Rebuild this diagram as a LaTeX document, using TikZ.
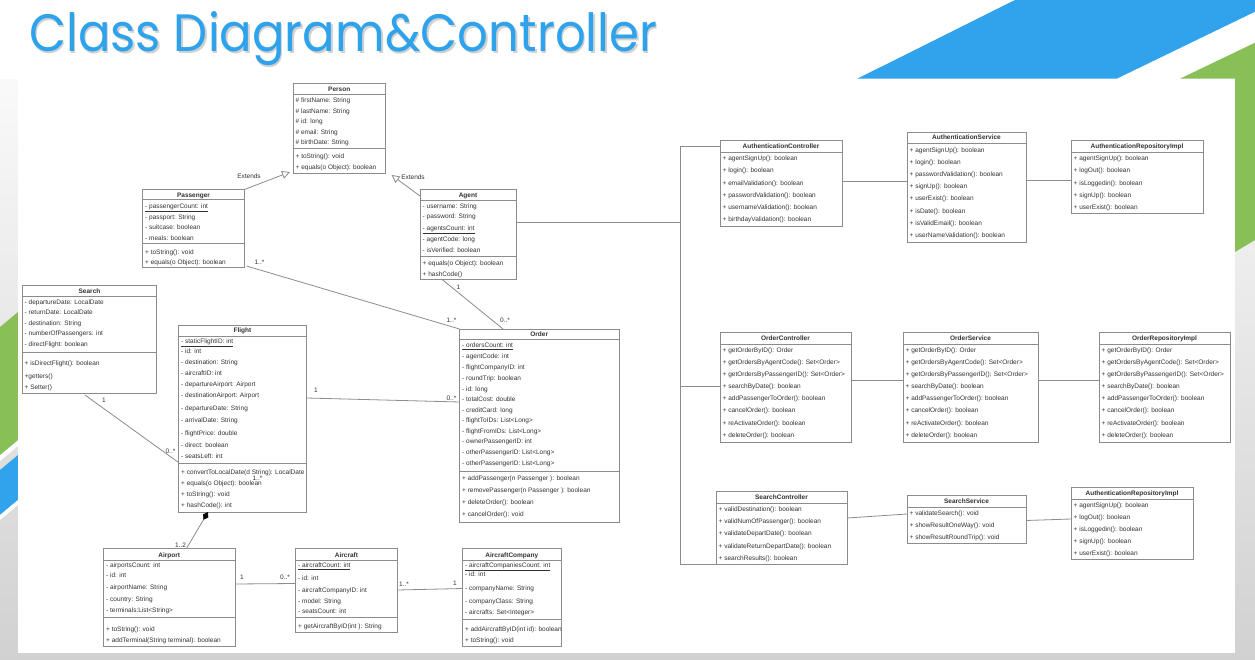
\documentclass[tikz,border=0pt]{standalone}
\usepackage{fontspec}
\setmainfont{Liberation Sans}
\newfontfamily\titlefont{Poppins}
\usetikzlibrary{arrows.meta,calc}
\definecolor{titleblue}{HTML}{2EA3EC}
\definecolor{shapeblue}{HTML}{30A3EC}
\definecolor{shapegreen}{HTML}{88C057}
\definecolor{txt}{HTML}{333333}
\definecolor{linegray}{HTML}{8C8C8C}
\tikzset{
  classbox/.style={draw=linegray, line width=0.8pt, fill=white, inner sep=0pt, outer sep=0pt, rectangle},
  sepline/.style={draw=linegray, line width=0.8pt},
  rowtxt/.style={anchor=west, inner sep=0pt, font=\fontsize{6.5}{7}\selectfont, text=txt, text height=4.6pt, text depth=0pt},
  titletxt/.style={inner sep=0pt, font=\bfseries\fontsize{6.5}{7}\selectfont, text=txt, text height=4.6pt, text depth=0pt},
  lbl/.style={inner sep=0pt, font=\fontsize{6.5}{7}\selectfont, text=txt},
  conn/.style={draw=linegray, line width=0.8pt},
}
\newcommand\umlbox[9]{%
  \node[classbox, minimum width={#3pt-#2pt}, minimum height={#5pt-#4pt}, anchor=north west] (#1) at (#2,#4) {};
  \node[titletxt] (#1t) at ({(#2+#3)/2},#6) {#7};
  \draw[sepline] (#2,#8) -- (#3,#8);
  \ifx\relax#9\relax\else\draw[sepline] (#2,#9) -- (#3,#9);\fi}
\newcommand\umlrows[3]{%
  \foreach \rowy/\rowt [count=\i] in {#3} {\node[rowtxt] (#1\i) at (#2,\rowy) {\rowt};}}
\begin{document}
\begin{tikzpicture}[x=1pt,y=-1pt]
\useasboundingbox (0,0) rectangle (1255,660);
% background
\shade[top color=white, bottom color=black!18] (0,0) rectangle (1255,660);
\fill[white] (0,0) rectangle (1255,79);
\begin{scope}
\clip (0,79) rectangle (18,660);
\fill[white] (0,455) -- (18,440) -- (18,446) -- (0,461) -- cycle;
\fill[shapegreen] (0,327) -- (18,312) -- (18,440) -- (0,455) -- cycle;
\fill[shapeblue] (0,470) -- (18,455) -- (18,500) -- (0,515) -- cycle;
\fill[white] (0,515) -- (18,500) -- (18,505) -- (0,520) -- cycle;
\end{scope}
\fill[shapeblue] (1015,0) -- (1255,0) -- (1255,11.7) -- (1116.7,78.7) -- (857.3,78.7) -- cycle;
\fill[shapegreen] (1180,78.7) -- (1255,42.7) -- (1255,240) -- (1235,252) -- (1235,78.7) -- cycle;
\fill[white] (18,79) rectangle (1235,653);
% title
\node[anchor=base west, inner sep=0pt, text=black, opacity=0.18] (titleshadow) at (30.5,53.5) {\resizebox{628pt}{40pt}{\titlefont Class Diagram\&Controller}};
\node[anchor=base west, inner sep=0pt, text=titleblue] (title) at (29,52) {\resizebox{628pt}{40pt}{\titlefont Class Diagram\&Controller}};

% ===== left classes
\umlbox{person}{293}{385.5}{83.5}{173}{89.5}{Person}{94.5}{148}
\umlrows{person-a}{295.5}{100.5/\# firstName: String, 111/\# lastName: String, 121.5/\# id: long, 132/\# email: String, 142.5/\# birthDate: String}
\umlrows{person-m}{295.5}{156.5/+ toString(): void, 167.5/+ equals(o Object): boolean}

\umlbox{passenger}{142.5}{244.5}{189.5}{267}{195}{Passenger}{199.5}{243.5}
\umlrows{passenger-a}{145}{206/{\underline{- passengerCount: int}}, 217/- passport: String, 227.5/- suitcase: boolean, 238/- meals: boolean}
\umlrows{passenger-m}{145}{252.5/+ toString(): void, 262.5/+ equals(o Object): boolean}

\umlbox{agent}{420}{516}{189}{279}{195}{Agent}{200}{256.5}
\umlrows{agent-a}{422.5}{206/- username: String, 216.5/- password: String, 228.5/{\underline{- agentsCount: int}}, 239.5/- agentCode: long, 250/- isVerified: boolean}
\umlrows{agent-m}{422.5}{263.5/+ equals(o Object): boolean, 274/+ hashCode()}

\umlbox{search}{22.5}{156.5}{285}{393.5}{291}{Search}{296}{352}
\umlrows{search-a}{24.5}{302.5/- departureDate: LocalDate, 312.5/- returnDate: LocalDate, 323/- destination: String, 333.5/- numberOfPassengers: int, 344/- directFlight: boolean}
\umlrows{search-m}{24.5}{363.5/+ isDirectFlight(): boolean, 376/+getters(), 387.5/+ Setter()}

\umlbox{flight}{178.5}{306.5}{325}{512}{330.5}{Flight}{336}{463.5}
\umlrows{flight-a}{181}{341.5/{\underline{- staticFlightID: int}}, 351.5/- id: int, 362.5/- destination: String, 373/- aircraftID: int, 384/- departureAirport: Airport, 395.5/- destinationAirport: Airport, 408/- departureDate: String, 420.5/- arrivalDate: String, 433/- flightPrice: double, 445/- direct: boolean, 456.5/- seatsLeft: int}
\umlrows{flight-m}{181}{472.5/+ convertToLocalDate(d String): LocalDate, 483.5/+ equals(o Object): boolean, 494/+ toString(): void, 505.5/+ hashCode(): int}

\umlbox{order}{459.5}{619}{329}{522}{334}{Order}{339.5}{471}
\umlrows{order-a}{462}{345/{\underline{- ordersCount: int}}, 356.5/- agentCode: int, 367.5/- flightCompanyID: int, 378.5/- roundTrip: boolean, 389.5/- id: long, 399.5/- totalCost: double, 410/- creditCard: long, 420.5/- flightToIDs: List<Long>, 431/- flightFromIDs: List<Long>, 441.5/- ownerPassengerID: int, 452.5/- otherPassengerID: List<Long>, 463.5/- otherPassengerID: List<Long>}
\umlrows{order-m}{462}{478.5/+ addPassenger(n Passenger ): boolean, 490/+ removePassenger(n Passenger ): boolean, 502/+ deleteOrder(): boolean, 514/+ cancelOrder(): void}

\umlbox{airport}{103.5}{235}{548.5}{646}{555}{Airport}{560.5}{617.5}
\umlrows{airport-a}{106}{565/- airportsCount: int, 575.5/- id: int, 587/- airportName: String, 599.5/- country: String, 610.5/- terminals:List<String>}
\umlrows{airport-m}{106}{629/+ toString(): void, 640/+ addTerminal(String terminal): boolean}

\umlbox{aircraft}{295.5}{397.5}{548.5}{632}{555}{Aircraft}{560.5}{617.5}
\umlrows{aircraft-a}{298}{565/{\underline{- aircraftCount: int}}, 578/- id: int, 590.5/- aircraftCompanyID: int, 601/- model: String, 611/- seatsCount: int}
\umlrows{aircraft-m}{298}{626/+ getAircraftByID(int ): String}

\umlbox{company}{462.5}{561}{548.5}{646}{555}{AircraftCompany}{560.5}{619.5}
\umlrows{company-a}{465}{565/{\underline{- aircraftCompaniesCount: int}}, 574.5/- id: int, 588.5/- companyName: String, 601/- companyClass: String, 612.5/- aircrafts: Set<Integer>}
\umlrows{company-m}{465}{629/+ addAircraftByID(int id): boolean, 640/+ toString(): void}

% ===== right classes
\umlbox{authctrl}{720}{842}{140}{226}{146}{AuthenticationController}{152}{}
\umlrows{authctrl-m}{722.5}{158/+ agentSignUp(): boolean, 170.5/+ login(): boolean, 183/+ emailValidation(): boolean, 195/+ passwordValidation(): boolean, 207/+ usernameValidation(): boolean, 219.5/+ birthdayValidation(): boolean}

\umlbox{authsvc}{907}{1026}{132}{242}{137.5}{AuthenticationService}{143}{}
\umlrows{authsvc-m}{909.5}{150/+ agentSignUp(): boolean, 162/+ login(): boolean, 174/+ passwordValidation(): boolean, 186.5/+ signUp(): boolean, 198.5/+ userExist(): boolean, 211/+ isDate(): boolean, 223/+ isValidEmail(): boolean, 235.5/+ userNameValidation(): boolean}

\umlbox{authrepo}{1071}{1203}{140}{213}{146}{AuthenticationRepositoryImpl}{152}{}
\umlrows{authrepo-m}{1073.5}{158/+ agentSignUp(): boolean, 170.5/+ logOut(): boolean, 183/+ isLoggedin(): boolean, 195/+ signUp(): boolean, 207/+ userExist(): boolean}

\umlbox{ordctrl}{720}{851}{332}{442}{338}{OrderController}{344}{}
\umlrows{ordctrl-m}{722.5}{350/+ getOrderByID(): Order, 362/+ getOrdersByAgentCode(): Set<Order>, 374/+ getOrdersByPassengerID(): Set<Order>, 386/+ searchByDate(): boolean, 398.5/+ addPassengerToOrder(): boolean, 410.5/+ cancelOrder(): boolean, 423/+ reActivateOrder(): boolean, 435/+ deleteOrder(): boolean}

\umlbox{ordsvc}{903}{1038}{332}{442}{338}{OrderService}{344}{}
\umlrows{ordsvc-m}{905.5}{350/+ getOrderByID(): Order, 362/+ getOrdersByAgentCode(): Set<Order>, 374/+ getOrdersByPassengerID(): Set<Order>, 386/+ searchByDate(): boolean, 398.5/+ addPassengerToOrder(): boolean, 410.5/+ cancelOrder(): boolean, 423/+ reActivateOrder(): boolean, 435/+ deleteOrder(): boolean}

\umlbox{ordrepo}{1099}{1230}{332}{442}{338}{OrderRepositoryImpl}{344}{}
\umlrows{ordrepo-m}{1101.5}{350/+ getOrderByID(): Order, 362/+ getOrdersByAgentCode(): Set<Order>, 374/+ getOrdersByPassengerID(): Set<Order>, 386/+ searchByDate(): boolean, 398.5/+ addPassengerToOrder(): boolean, 410.5/+ cancelOrder(): boolean, 423/+ reActivateOrder(): boolean, 435/+ deleteOrder(): boolean}

\umlbox{srchctrl}{716}{847}{491}{564}{497}{SearchController}{503}{}
\umlrows{srchctrl-m}{718.5}{509/+ validDestination(): boolean, 521/+ validNumOfPassenger(): boolean, 533.5/+ validateDepartDate(): boolean, 546/+ validateReturnDepartDate(): boolean, 558/+ searchResults(): boolean}

\umlbox{srchsvc}{907}{1026}{495}{543}{501}{SearchService}{507}{}
\umlrows{srchsvc-m}{909.5}{513/+ validateSearch(): void, 525/+ showResultOneWay(): void, 537/+ showResultRoundTrip(): void}

\umlbox{authrepob}{1071}{1193}{487}{559.5}{493}{AuthenticationRepositoryImpl}{499}{}
\umlrows{authrepob-m}{1073.5}{505/+ agentSignUp(): boolean, 517/+ logOut(): boolean, 529.5/+ isLoggedin(): boolean, 541.5/+ signUp(): boolean, 553.5/+ userExist(): boolean}

% ===== connectors (left)
\draw[conn, -{Triangle[open, length=8pt, width=8pt]}] (passenger.north east) -- ($(person.south west)+(-3,-1)$);
\node[lbl] (ext1) at (249,176.5) {Extends};
\draw[conn, -{Triangle[open, length=8pt, width=8pt]}] ($(agent.north west)+(0,7)$) -- ($(person.south east)+(6,2)$);
\node[lbl] (ext2) at (413,177.5) {Extends};

\draw[conn] ($(passenger.south east)+(2,-1)$) -- (order.north west);
\node[lbl] (l1) at (259.5,262.5) {1..*};
\node[lbl] (l2) at (451.5,320.5) {1..*};

\draw[conn] ($(agent.south west)+(21.5,0)$) -- ($(order.north west)+(43.5,0)$);
\node[lbl] (l3) at (458.5,287) {1};
\node[lbl] (l4) at (505,320.5) {0..*};

\draw[conn] ($(search.south west)+(62.5,1.5)$) -- ($(flight.north west)+(0,137.5)$);
\node[lbl] (l5) at (104,400.5) {1};
\node[lbl] (l6) at (170.5,451.5) {0..*};

\draw[conn] ($(flight.north east)+(0,73)$) -- ($(order.north west)+(0,73)$);
\node[lbl] (l7) at (316,390) {1};
\node[lbl] (l8) at (451.5,398.5) {0..*};

\draw[conn, {Diamond[length=9pt, width=6pt, fill=black, color=black]}-] ($(flight.south west)+(29.5,0)$) -- ($(airport.north west)+(83,0)$);
\node[lbl] (l9) at (180.5,545) {1..2};
\node[lbl] (l10) at (257.5,478.5) {1..*};

\draw[conn] ($(airport.north east)+(0,35.5)$) -- ($(aircraft.north west)+(0,35)$);
\node[lbl] (l11) at (242,577.5) {1};
\node[lbl] (l12) at (285,577.5) {0..*};

\draw[conn] ($(aircraft.north east)+(0,41.5)$) -- ($(company.north west)+(0,40)$);
\node[lbl] (l13) at (404,584) {1..*};
\node[lbl] (l14) at (455,583) {1};

% ===== connectors (right)
\coordinate (busx) at (680,0);
\coordinate (agentout) at ($(agent.north east)+(0,33)$);
\draw[conn] (agentout) -- (agentout -| busx);
\draw[conn] (authctrlt -| authctrl.west) -- (authctrlt -| busx) -- (srchctrl.south west -| busx) -- (srchctrl.south west);
\draw[conn] (ordctrl-m4 -| ordctrl.west) -- (ordctrl-m4 -| busx);

\draw[conn] ($(authctrl.north east)+(0,41)$) -- ($(authsvc.north west)+(0,49)$);
\draw[conn] ($(authsvc.north east)+(0,48)$) -- ($(authrepo.north west)+(0,40)$);
\draw[conn] ($(ordctrl.north east)+(0,48)$) -- ($(ordsvc.north west)+(0,48)$);
\draw[conn] ($(ordsvc.north east)+(0,48)$) -- ($(ordrepo.north west)+(0,48)$);
\draw[conn] ($(srchctrl.north east)+(0,27)$) -- ($(srchsvc.north west)+(0,19)$);
\draw[conn] ($(srchsvc.north east)+(0,25.5)$) -- ($(authrepob.north west)+(0,32)$);
\end{tikzpicture}
\end{document}
